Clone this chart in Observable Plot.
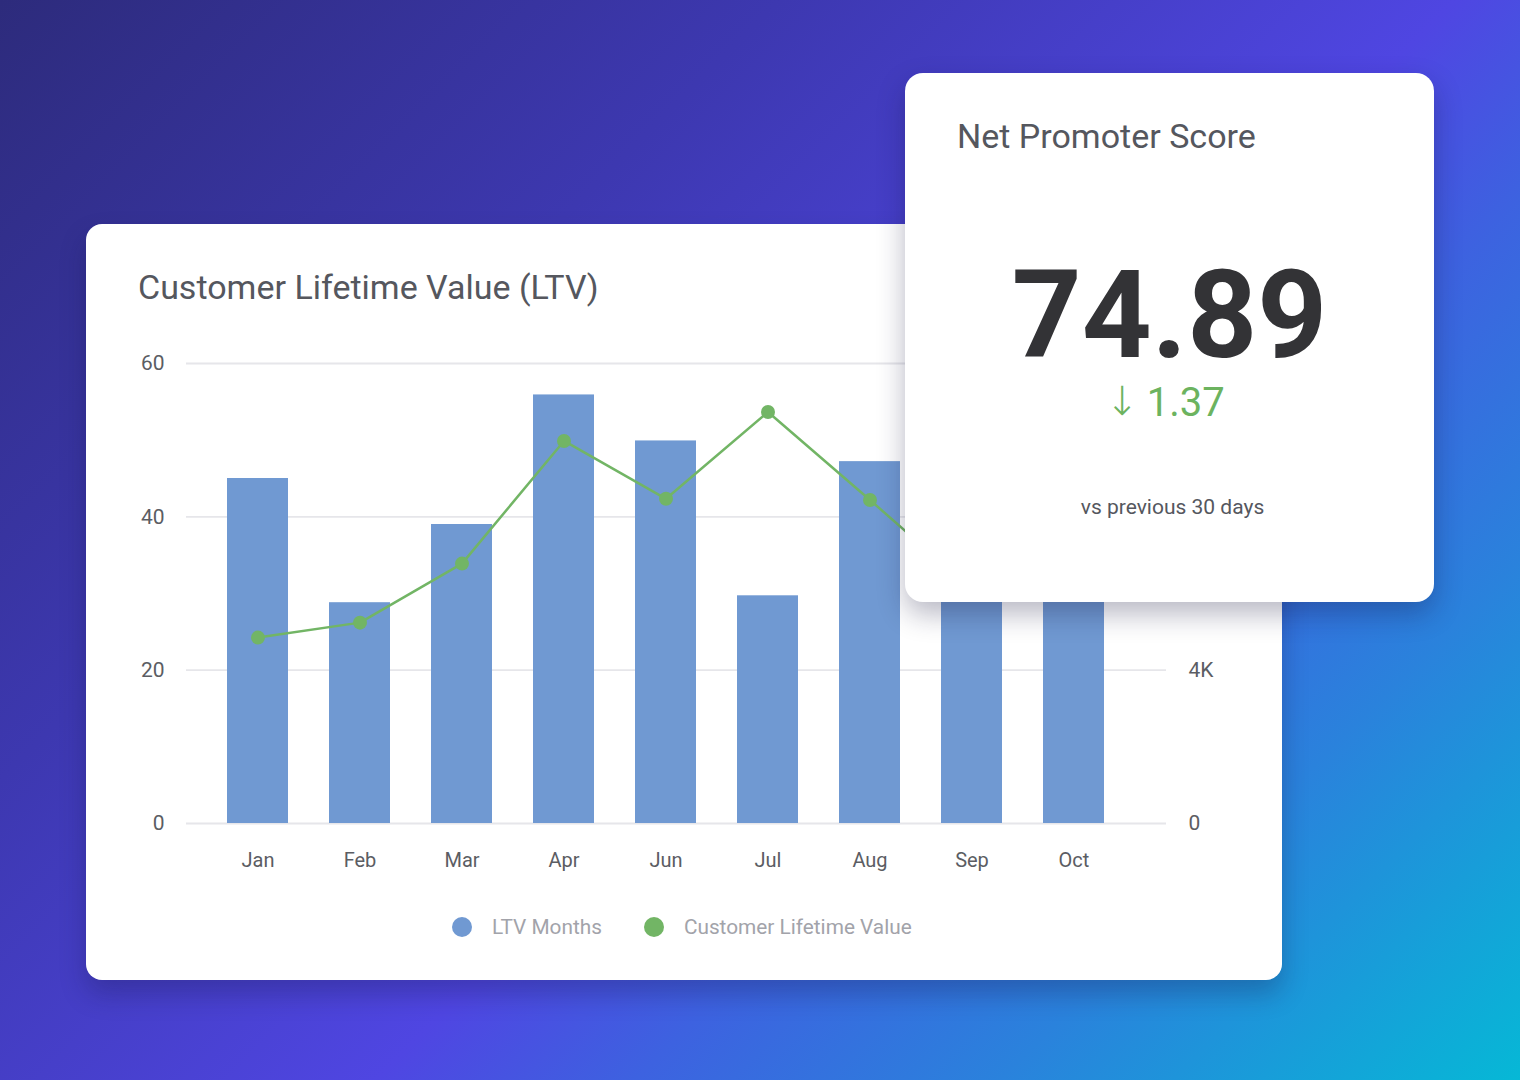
<!DOCTYPE html>
<html>
<head>
<meta charset="utf-8">
<script src="https://cdn.jsdelivr.net/npm/d3@7"></script>
<script src="https://cdn.jsdelivr.net/npm/@observablehq/plot@0.6"></script>
<style>
  html, body { margin: 0; padding: 0; }
  body {
    width: 1520px; height: 1080px; overflow: hidden; position: relative;
    background: linear-gradient(135deg, #2d2b7c 0%, #3d38b0 30%, #4f46e2 56%, #3d62e0 66%, #2a82dc 80%, #06b8d6 100%);
    font-family: Roboto, "Noto Sans", sans-serif;
  }
  .card { position: absolute; background: #fff; }
  #ltv { left: 86px; top: 224px; width: 1196px; height: 756px; border-radius: 16px;
         box-shadow: 0 14px 26px rgba(20, 20, 70, 0.28); }
  #nps { left: 905px; top: 73px; width: 529px; height: 529px; border-radius: 18px;
         box-shadow: 0 12px 28px rgba(20, 20, 60, 0.30); z-index: 2; }
  .t { position: absolute; line-height: 1; white-space: nowrap; }
  #chart { position: absolute; left: 0; top: 99px; }
  #legend { position: absolute; left: 366px; top: 693px; display: flex; align-items: center;
            font-size: 20.8px; color: #a2a3aa; line-height: 1; }
  .sw { width: 20px; height: 20px; border-radius: 50%; display: inline-block; }
  #arrow { font-family: "DejaVu Sans", sans-serif; font-size: 40px; font-weight: 200; margin-right: 8px; position: relative; top: -1px; }
</style>
</head>
<body>
<div class="card" id="ltv">
  <div class="t" style="left:52px; top:46px; font-size:34px; color:#55575e;">Customer Lifetime Value (LTV)</div>
  <div id="chart"></div>
  <div id="legend"></div>
</div>
<div class="card" id="nps">
  <div class="t" style="left:52px; top:46px; font-size:34px; color:#55575e;">Net Promoter Score</div>
  <div class="t" id="big" style="left:0; width:529px; text-align:center; top:182px; font-size:122px; font-weight:700; color:#333336;"></div>
  <div class="t" id="delta" style="left:0; width:520px; text-align:center; top:309px; font-size:40px; color:#6cb35f;"><span id="arrow"></span><span id="dnum"></span></div>
  <div class="t" id="cmp" style="left:0; width:535px; text-align:center; top:424px; font-size:21px; color:#55575e;"></div>
</div>
<script>
// ---- data ----
const months = ["Jan", "Feb", "Mar", "Apr", "Jun", "Jul", "Aug", "Sep", "Oct"];
const ltvMonths = [45, 28.8, 39, 55.9, 49.9, 29.7, 47.2, 42, 44];
const ltvValue = [4850, 5240, 6780, 9980, 8470, 10735, 8440, 6100, 7000];
const leftTicks = [0, 20, 40, 60];
const rightTicks = [0, 4000];          // the 8K / 12K labels sit hidden under the NPS card
const rightTickLabels = ["0", "4K"];
const rightMax = 12000;
const seriesNames = ["LTV Months", "Customer Lifetime Value"];
const seriesColors = ["#7099d2", "#72b565"];
const npsValue = "74.89";
const npsDelta = "1.37";
const npsCompare = "vs previous 30 days";

// ---- build ----
const ratio = leftTicks[leftTicks.length - 1] / rightMax;
const data = months.map((m, i) => ({month: m, bars: ltvMonths[i], value: ltvValue[i]}));

const plot = Plot.plot({
  width: 1196,
  height: 580,
  marginLeft: 100,
  marginRight: 116,
  marginTop: 40,
  marginBottom: 80,
  style: {fontFamily: "Roboto, 'Noto Sans', sans-serif", fontSize: "21px", color: "#5b5d63", background: "transparent", overflow: "visible"},
  x: {domain: months, padding: 0.4, insetRight: 20.6, label: null},
  y: {domain: [leftTicks[0], leftTicks[leftTicks.length - 1]], label: null},
  marks: [
    Plot.ruleY(leftTicks, {stroke: "#e6e6ea", strokeWidth: 1.8}),
    Plot.barY(data, {x: "month", y: "bars", fill: seriesColors[0]}),
    Plot.line(data, {x: "month", y: d => d.value * ratio, stroke: seriesColors[1], strokeWidth: 2.5}),
    Plot.dot(data, {x: "month", y: d => d.value * ratio, fill: seriesColors[1], r: 7}),
    Plot.axisX({tickSize: 0, tickPadding: 29, label: null, fontSize: 20}),
    Plot.axisY(leftTicks, {anchor: "left", tickSize: 0, tickPadding: 22, label: null}),
    Plot.axisY(rightTicks.map(v => v * ratio), {anchor: "right", tickSize: 0, tickPadding: 22, label: null,
      tickFormat: (d, i) => rightTickLabels[i]})
  ]
});
document.getElementById("chart").appendChild(plot);

const legend = document.getElementById("legend");
seriesNames.forEach((name, i) => {
  const sw = document.createElement("span");
  sw.className = "sw";
  sw.style.background = seriesColors[i];
  sw.style.marginLeft = i === 0 ? "0" : "42px";
  const tx = document.createElement("span");
  tx.textContent = name;
  tx.style.marginLeft = "20px";
  legend.appendChild(sw);
  legend.appendChild(tx);
});

document.getElementById("big").textContent = npsValue;
document.getElementById("arrow").textContent = "\u2193";
document.getElementById("dnum").textContent = npsDelta;
document.getElementById("cmp").textContent = npsCompare;
</script>
</body>
</html>
